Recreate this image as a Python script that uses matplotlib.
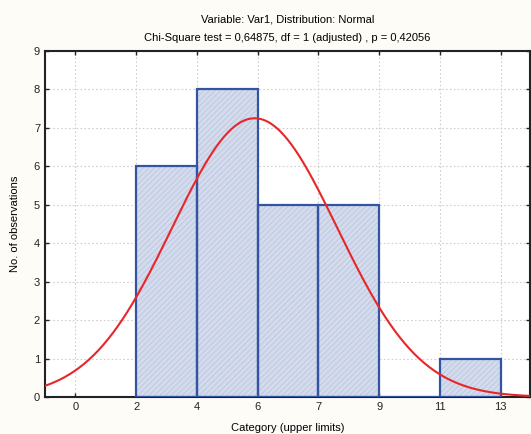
import numpy as np
import matplotlib
matplotlib.use("Agg")
import matplotlib.pyplot as plt

# Data
tick_labels = ["0", "2", "4", "6", "7", "9", "11", "13"]
bar_left_idx = [1, 2, 3, 4, 5, 6]          # category index of each bar's left edge
counts = [6, 8, 5, 5, 0, 1]
curve_mean = 2.95      # fitted normal, in category-position units
curve_sd = 1.36
curve_peak = 7.25

plt.rcParams['font.family'] = ['Liberation Sans', 'DejaVu Sans']
plt.rcParams['hatch.linewidth'] = 0.5

fig = plt.figure(figsize=(5.31, 4.34), dpi=100, facecolor='#fdfcf7')
ax = fig.add_axes([0.0847, 0.0853, 0.9133, 0.7972])
ax.set_facecolor('white')

pos = np.arange(len(tick_labels))
ax.set_xlim(-0.5, 7.48)
ax.set_ylim(0, 9)

# bars
ax.bar(bar_left_idx, counts, width=1.0, align='edge', color='#d3dbec',
       edgecolor='#b7c2dc', hatch='//////', linewidth=0, zorder=2)
ax.bar(bar_left_idx, counts, width=1.0, align='edge', color='none',
       edgecolor='#3353a3', linewidth=1.6, zorder=3)

# normal curve
xs = np.linspace(-0.5, 7.5, 400)
ys = curve_peak * np.exp(-0.5 * ((xs - curve_mean) / curve_sd) ** 2)
ax.plot(xs, ys, color='#e8262a', linewidth=1.5, zorder=4, clip_on=True)

ax.set_xticks(pos)
ax.set_xticklabels(tick_labels)
ax.set_yticks(np.arange(0, 10))
ax.grid(True, color='#cfcfcf', linestyle=(0, (1.5, 2)), linewidth=0.8, zorder=0)
ax.set_axisbelow(True)
ax.tick_params(direction='in', length=3, width=1, labelsize=8, top=True, right=True,
               colors='#222222', labelcolor='#222222')
for s in ax.spines.values():
    s.set_linewidth(1.5)
    s.set_color('#222222')

ax.set_xlabel('Category (upper limits)', fontsize=8, labelpad=8)
ax.set_ylabel('No. of observations', fontsize=8, labelpad=10)
ax.set_title('Variable: Var1, Distribution: Normal\n'
             'Chi-Square test = 0,64875, df = 1 (adjusted) , p = 0,42056',
             fontsize=8, linespacing=2.1, pad=7)

fig.savefig('out.png', dpi=100, facecolor=fig.get_facecolor())
